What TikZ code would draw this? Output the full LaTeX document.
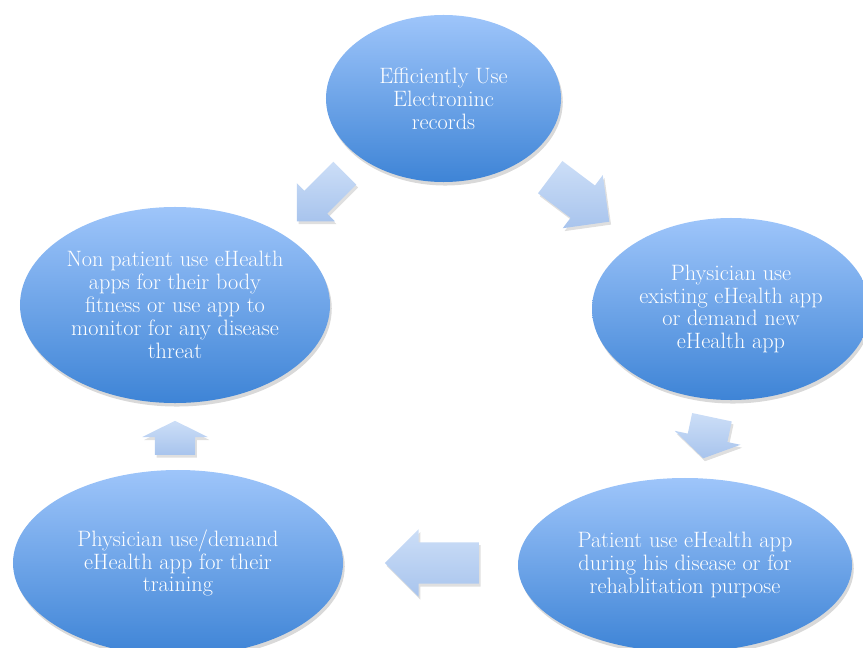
\documentclass[tikz,border=0pt]{standalone}
\usepackage{fontspec}
\usetikzlibrary{shapes.geometric,shapes.arrows,shadows}

\definecolor{bubtop}{RGB}{158,197,250}
\definecolor{bubbot}{RGB}{62,132,214}
\definecolor{arrtop}{RGB}{204,222,247}
\definecolor{arrbot}{RGB}{168,196,237}

\tikzset{
  bubble/.style={ellipse, inner sep=0pt, top color=bubtop, bottom color=bubbot,
    text=white, align=center, font=\fontsize{19}{19.5}\selectfont,
    drop shadow={shadow xshift=1.5pt, shadow yshift=-3pt, opacity=0.3}},
  fatarrow/.style={single arrow, inner xsep=0pt, anchor=tail, top color=arrtop,
    bottom color=arrbot,
    drop shadow={shadow xshift=1.5pt, shadow yshift=-2.5pt, opacity=0.25}}
}

\begin{document}
\begin{tikzpicture}[x=0.03cm, y=-0.03cm]
\useasboundingbox (0,0) rectangle (863,648);

\node[bubble, minimum width=7.05cm, minimum height=5.01cm] (rec) at (443.5,98.5)
  {Efficiently Use\\Electroninc\\records};
\node[bubble, minimum width=8.34cm, minimum height=5.46cm] (physapp) at (731,309)
  {Physician use\\existing eHealth app\\or demand new\\eHealth app};
\node[bubble, minimum width=10.02cm, minimum height=5.22cm] (patapp) at (685,565)
  {Patient use eHealth app\\during his disease or for\\rehablitation purpose};
\node[bubble, minimum width=9.9cm, minimum height=5.58cm] (train) at (178,563)
  {Physician use/demand\\eHealth app for their\\training};
\node[bubble, minimum width=9.3cm, minimum height=5.88cm] (nonpat) at (175,305)
  {Non patient use eHealth\\apps for their body\\fitness or use app to\\monitor for any disease\\threat};

% block arrows of the cycle
\node[fatarrow, rotate=-37, minimum height=2.22cm, inner ysep=0.6cm,
  single arrow head extend=0.39cm, single arrow tip angle=90] (recphys) at (550,177) {};
\node[fatarrow, rotate=-102, minimum height=1.26cm, inner ysep=0.6cm,
  single arrow head extend=0.4cm, single arrow tip angle=116] (physpat) at (712,417) {};
\node[fatarrow, rotate=180, minimum height=2.82cm, inner ysep=0.615cm,
  single arrow head extend=0.39cm, single arrow tip angle=90] (pattrain) at (479,563) {};
\node[fatarrow, rotate=90, minimum height=1.02cm, inner ysep=0.6cm,
  single arrow head extend=0.375cm, single arrow tip angle=127] (trainnon) at (175,455) {};
\node[fatarrow, rotate=225, minimum height=2.04cm, inner ysep=0.48cm,
  single arrow head extend=0.32cm, single arrow tip angle=90] (recnon) at (345,173) {};
\end{tikzpicture}
\end{document}
